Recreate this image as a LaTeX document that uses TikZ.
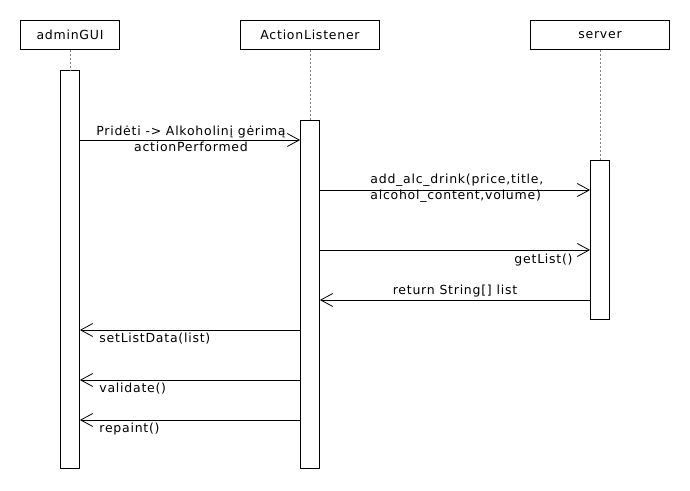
\documentclass[tikz,border=0pt]{standalone}
\usepackage{fontspec}
\setmainfont[LetterSpace=6]{DejaVu Sans}
\usetikzlibrary{arrows.meta}

\begin{document}
\begin{tikzpicture}[x=1pt,y=-1pt,line width=0.8pt,font=\fontsize{12.5}{16}\selectfont]
    \tikzstyle{head}=[rectangle,draw=black,fill=white,minimum height=29pt,inner sep=0pt]
    \tikzstyle{bar}=[rectangle,draw=black,fill=white,minimum width=19pt,inner sep=0pt,anchor=north]
    \tikzstyle{life}=[draw=gray,line width=0.5pt,dash pattern=on 2pt off 2pt]
    \tikzstyle{msg}=[-{Straight Barb[length=12pt,width=13pt]}]
    \tikzstyle{lbl}=[inner sep=0pt]
    \useasboundingbox (0,0) rectangle (690,490);

    \foreach \name/\x/\w/\txt in {gui/70/99/adminGUI, al/310/139/ActionListener, srv/600/139/server}
            \node[head,minimum width=\w pt] (H-\name) at (\x,35) {\txt};

    \foreach \name/\x/\top/\h in {gui/70/70/398, al/310/120/348, srv/600/160/159}
        {
            \node[bar,minimum height=\h pt] (B-\name) at (\x,\top) {};
            \draw[life] (H-\name.south) -- (B-\name.north);
        }

        % calls to the right
        \foreach \from/\to/\y in {gui/al/140, al/srv/190, al/srv/250}
            \draw[msg] (B-\from.east |- 0,\y) -- (B-\to.west |- 0,\y);

        % calls back to the left
        \foreach \from/\to/\y in {srv/al/300, al/gui/330, al/gui/380, al/gui/420}
            \draw[msg] (B-\from.west |- 0,\y) -- (B-\to.east |- 0,\y);

    \node[lbl,align=center] (L-1) at (191,138.5) {Pridėti -> Alkoholinį gėrimą\\actionPerformed};
    \node[lbl,align=left,anchor=west] (L-2) at (370,188.5) {add\_alc\_drink(price,title,\\alcohol\_content,volume)};
    \node[lbl,anchor=east] (L-3) at (573,260) {getList()};
    \node[lbl] (L-4) at (455,291) {return String[] list};
    \foreach \num/\y/\txt in {5/339/setListData(list), 6/389/validate(), 7/429/repaint()}
            \node[lbl,anchor=west] (L-\num) at (99,\y) {\txt};
\end{tikzpicture}
\end{document}
